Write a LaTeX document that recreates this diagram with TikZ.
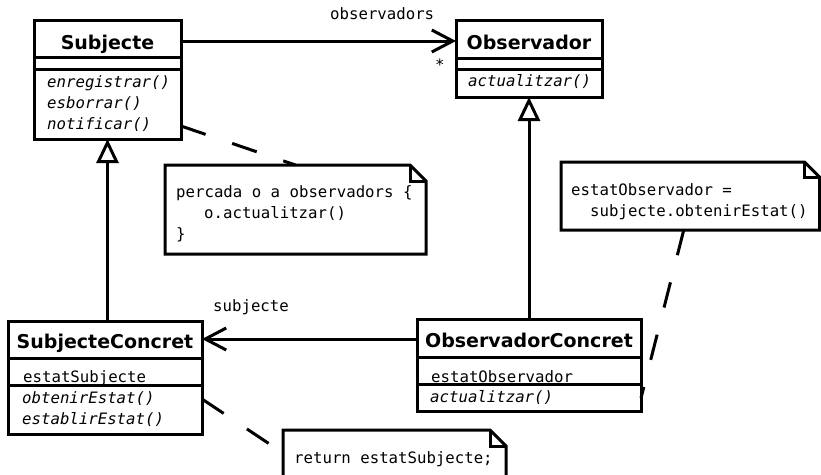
\documentclass[tikz,border=0pt]{standalone}
\usepackage{fontspec}
\setsansfont{DejaVu Sans}
\setmonofont{DejaVu Sans Mono}
\usetikzlibrary{arrows.meta}
\begin{document}
\begin{tikzpicture}[x=1pt,y=-1pt,
  umlbox/.style={draw, line width=3pt, fill=white, inner sep=0pt, outer sep=0pt, anchor=north west},
  sepline/.style={line width=3pt},
  cname/.style={font=\sffamily\bfseries\fontsize{19}{19}\selectfont, anchor=base, inner sep=0pt},
  member/.style={font=\ttfamily\fontsize{15.7}{15.7}\selectfont, anchor=base west, inner sep=0pt},
  op/.style={font=\ttfamily\itshape\fontsize{15.7}{15.7}\selectfont, anchor=base west, inner sep=0pt},
  notebox/.style={inner sep=0pt, outer sep=0pt, anchor=north west},
  noteline/.style={line width=3pt, fill=white},
  assoc/.style={line width=3pt, -{Straight Barb[length=21pt,width=22pt]}},
  inherit/.style={line width=3pt, -{Triangle[length=24pt,width=22pt,fill=white]}},
  noteref/.style={line width=3pt, dash pattern=on 26pt off 28pt},
]
\useasboundingbox (0,0) rectangle (821,474);
\clip (0,0) rectangle (821,474);
\fill[white] (0,0) rectangle (821,474);

% ---- class boxes ----
\node[umlbox, minimum width=147pt, minimum height=119pt] (subj) at (34,20) {};
\draw[sepline] (subj.west |- 0,57) -- (subj.east |- 0,57);
\draw[sepline] (subj.west |- 0,69) -- (subj.east |- 0,69);
\node[cname] (subjT) at (107.5,49) {Subjecte};
\node[op] (subjM1) at (47,87) {enregistrar()};
\node[op] (subjM2) at (47,108) {esborrar()};
\node[op] (subjM3) at (47,129) {notificar()};

\node[umlbox, minimum width=146pt, minimum height=77pt] (obs) at (456,20) {};
\draw[sepline] (obs.west |- 0,58) -- (obs.east |- 0,58);
\draw[sepline] (obs.west |- 0,69) -- (obs.east |- 0,69);
\node[cname] (obsT) at (529,49) {Observador};
\node[op] (obsM1) at (468,86) {actualitzar()};

\node[umlbox, minimum width=194pt, minimum height=113pt] (subjC) at (8,321) {};
\draw[sepline] (subjC.west |- 0,358) -- (subjC.east |- 0,358);
\draw[sepline] (subjC.west |- 0,385) -- (subjC.east |- 0,385);
\node[cname] (subjCT) at (105,348) {SubjecteConcret};
\node[member] (subjCA) at (23,382) {estatSubjecte};
\node[op] (subjCM1) at (22,403) {obtenirEstat()};
\node[op] (subjCM2) at (22,424) {establirEstat()};

\node[umlbox, minimum width=224pt, minimum height=92pt] (obsC) at (417,319) {};
\draw[sepline] (obsC.west |- 0,357) -- (obsC.east |- 0,357);
\draw[sepline] (obsC.west |- 0,384) -- (obsC.east |- 0,384);
\node[cname] (obsCT) at (529,347) {ObservadorConcret};
\node[member] (obsCA) at (431,382) {estatObservador};
\node[op] (obsCM1) at (430,402) {actualitzar()};

% ---- notes ----
\node[notebox, minimum width=261pt, minimum height=89pt] (n1) at (165,165) {};
\draw[noteline] (n1.north west) -- ([xshift=-16pt]n1.north east) -- ([yshift=-16pt]n1.north east)
  -- (n1.south east) -- (n1.south west) -- cycle;
\draw[line width=3pt] ([xshift=-16pt]n1.north east) -- ([xshift=-16pt,yshift=-16pt]n1.north east) -- ([yshift=-16pt]n1.north east);
\node[member] (n1a) at (176,197) {percada o a observadors \{};
\node[member] (n1b) at (204,218) {o.actualitzar()};
\node[member] (n1c) at (176,239) {\}};

\node[notebox, minimum width=258.5pt, minimum height=68pt] (n2) at (561,162) {};
\draw[noteline] (n2.north west) -- ([xshift=-15pt]n2.north east) -- ([yshift=-15pt]n2.north east)
  -- (n2.south east) -- (n2.south west) -- cycle;
\draw[line width=3pt] ([xshift=-15pt]n2.north east) -- ([xshift=-15pt,yshift=-15pt]n2.north east) -- ([yshift=-15pt]n2.north east);
\node[member] (n2a) at (571,195) {estatObservador =};
\node[member] (n2b) at (590,216) {subjecte.obtenirEstat()};

\node[notebox, minimum width=223pt, minimum height=66pt] (n3) at (283,430) {};
\draw[noteline] (n3.north west) -- ([xshift=-16pt]n3.north east) -- ([yshift=-16pt]n3.north east)
  -- (n3.south east) -- (n3.south west) -- cycle;
\draw[line width=3pt] ([xshift=-16pt]n3.north east) -- ([xshift=-16pt,yshift=-16pt]n3.north east) -- ([yshift=-16pt]n3.north east);
\node[member] (n3a) at (294,463) {return estatSubjecte;};

% ---- connectors ----
\draw[assoc] ([yshift=-21pt]subj.north east) -- ([yshift=-21pt]obs.north west);
\node[member] (lblObs) at (330,19) {observadors};
\node[member] (lblMult) at (435,70) {*};

\draw[assoc] ([yshift=-20pt]obsC.north west) -- ([yshift=-18pt]subjC.north east);
\node[member] (lblSubj) at (213,311) {subjecte};

\draw[inherit] (subj.south |- subjC.north) -- (subj.south);
\draw[inherit] (obsC.north) -- (obs.south);

\draw[noteref] ([yshift=13pt]subj.south east) -- (n1.north);
\draw[noteref] ([xshift=-6.5pt]n2.south) -- ([yshift=13pt]obsC.south east);
\draw[noteref] ([yshift=35pt]subjC.south east) -- ([yshift=-23pt]n3.north west);
\end{tikzpicture}
\end{document}
